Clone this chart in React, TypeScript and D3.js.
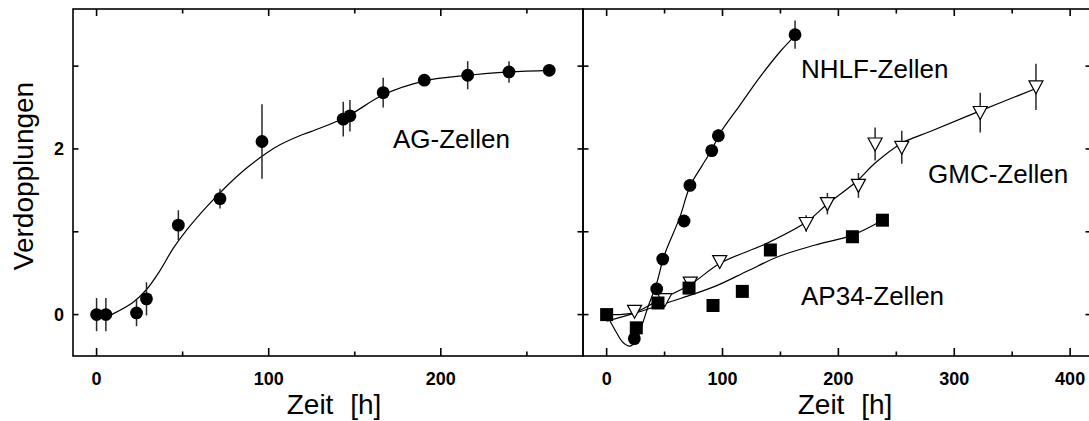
import React from "react";
import * as d3 from "d3";

// ---------- AG-Zellen (left panel) ----------
const AG_TIME = [0, 5.4, 23.2, 29, 47.5, 71.7, 96.1, 143.3, 147.2, 166.5, 190.4, 215.6, 239.6, 263];
const AG_VALUE = [0, 0, 0.02, 0.19, 1.08, 1.4, 2.09, 2.36, 2.4, 2.68, 2.83, 2.89, 2.93, 2.95];
const AG_ERR = [0.2, 0.2, 0.16, 0.2, 0.18, 0.12, 0.45, 0.21, 0.19, 0.18, 0, 0.17, 0.13, 0];
const AG_FIT_TIME = [8.7, 21.3, 28.9, 36.8, 44.5, 52.3, 63.9, 75.5, 87.2, 98.8, 106.5, 118, 125.9, 145.3, 167.1, 190.2, 215.9, 239.4, 263.8];
const AG_FIT_VALUE = [0, 0.15, 0.3, 0.53, 0.8, 1.02, 1.3, 1.55, 1.77, 1.95, 2.05, 2.16, 2.22, 2.39, 2.66, 2.82, 2.89, 2.93, 2.95];

// ---------- NHLF-Zellen ----------
const NHLF_TIME = [23.9, 43.2, 48.4, 66.8, 71.9, 90.7, 96.4, 162.6];
const NHLF_VALUE = [-0.29, 0.31, 0.67, 1.13, 1.56, 1.98, 2.16, 3.38];
const NHLF_ERR = [0, 0, 0, 0, 0, 0.07, 0.08, 0.17];
const NHLF_FIT_TIME = [2.3, 8.6, 14.4, 20.1, 25.3, 30.2, 35.9, 43.2, 48.9, 53.2, 63.3, 71.9, 82, 90.7, 97.9, 115.1, 132.4, 150, 164.1];
const NHLF_FIT_VALUE = [-0.06, -0.22, -0.34, -0.38, -0.32, -0.14, 0.1, 0.38, 0.68, 0.84, 1.18, 1.55, 1.79, 1.99, 2.19, 2.53, 2.87, 3.18, 3.39];

// ---------- GMC-Zellen ----------
const GMC_TIME = [24.1, 50.1, 72.2, 97.6, 172.2, 190.5, 217.3, 231.7, 254.7, 322.4, 370.5];
const GMC_VALUE = [0.04, 0.18, 0.38, 0.64, 1.1, 1.34, 1.56, 2.06, 2.02, 2.44, 2.75];
const GMC_ERR = [0, 0, 0, 0, 0.1, 0.13, 0.15, 0.2, 0.2, 0.24, 0.28];
const GMC_FIT_TIME = [0, 23, 43.2, 71.9, 97.9, 138.2, 172.7, 190, 215.9, 231.7, 254.7, 279.2, 322.4, 370.5];
const GMC_FIT_VALUE = [0, 0.02, 0.16, 0.36, 0.62, 0.86, 1.12, 1.33, 1.61, 1.83, 2.07, 2.21, 2.46, 2.73];

// ---------- AP34-Zellen ----------
const AP_TIME = [0, 25.6, 44.3, 71.1, 91.8, 117.1, 141.3, 212.1, 238];
const AP_VALUE = [0, -0.16, 0.14, 0.32, 0.11, 0.28, 0.78, 0.94, 1.14];
const AP_FIT_TIME = [0, 25, 45, 65, 95, 122, 150, 180, 212, 238];
const AP_FIT_VALUE = [-0.08, 0.02, 0.11, 0.2, 0.35, 0.53, 0.71, 0.84, 0.96, 1.14];

// ---------- axes ----------
const Y_TICKS = [0, 1, 2, 3];
const Y_TICK_LABELS = [0, 2];
const LEFT_X_MAJOR = [0, 100, 200];
const LEFT_X_MINOR = [50, 150, 250];
const RIGHT_X_MAJOR = [0, 100, 200, 300, 400];
const RIGHT_X_MINOR = [50, 150, 250, 350];

const W = 1089;
const H = 421;
const TOP = 9;
const BOTTOM = 356;
const LEFT = 73;
const DIV = 583;
const RIGHT = 1091;
const FONT = "'Liberation Sans', Arial, sans-serif";

const y = d3.scaleLinear().domain([-0.5, 3.69]).range([BOTTOM, TOP]);
const xL = d3.scaleLinear().domain([-13.7, 282.6]).range([LEFT, DIV]);
const xR = d3.scaleLinear().domain([-20.4, 418]).range([DIV, RIGHT]);

const zip = (a: number[], b: number[]) => a.map((v, i) => [v, b[i]] as [number, number]);

function fitPath(x: d3.ScaleLinear<number, number>, t: number[], v: number[]) {
  const line = d3
    .line<[number, number]>()
    .x((d) => x(d[0]))
    .y((d) => y(d[1]))
    .curve(d3.curveCatmullRom.alpha(0.5));
  return line(zip(t, v)) || "";
}

function Frame({ x, x0, x1, major, minor }: { x: d3.ScaleLinear<number, number>; x0: number; x1: number; major: number[]; minor: number[] }) {
  const els: React.ReactNode[] = [];
  major.forEach((t, i) => {
    const px = x(t);
    els.push(<line key={"mb" + i} x1={px} x2={px} y1={BOTTOM} y2={BOTTOM - 8} />);
    els.push(<line key={"mt" + i} x1={px} x2={px} y1={TOP} y2={TOP + 7} />);
  });
  minor.forEach((t, i) => {
    const px = x(t);
    els.push(<line key={"nb" + i} x1={px} x2={px} y1={BOTTOM} y2={BOTTOM - 4.5} />);
    els.push(<line key={"nt" + i} x1={px} x2={px} y1={TOP} y2={TOP + 4.5} />);
  });
  Y_TICKS.forEach((t, i) => {
    const py = y(t);
    els.push(<line key={"yl" + i} x1={x0} x2={x0 + 5.5} y1={py} y2={py} />);
    els.push(<line key={"yr" + i} x1={x1} x2={x1 - 5.5} y1={py} y2={py} />);
  });
  return (
    <g stroke="#000" strokeWidth={1.6} fill="none">
      <rect x={x0} y={TOP} width={x1 - x0} height={BOTTOM - TOP} />
      {els}
    </g>
  );
}

function ErrorBars({ x, t, v, e }: { x: d3.ScaleLinear<number, number>; t: number[]; v: number[]; e: number[] }) {
  return (
    <g stroke="#2a2a2a" strokeWidth={1.5}>
      {t.map((ti, i) =>
        e[i] > 0 ? <line key={i} x1={x(ti)} x2={x(ti)} y1={y(v[i] - e[i])} y2={y(v[i] + e[i])} /> : null
      )}
    </g>
  );
}

function Circles({ x, t, v }: { x: d3.ScaleLinear<number, number>; t: number[]; v: number[] }) {
  return (
    <g fill="#000">
      {t.map((ti, i) => (
        <circle key={i} cx={x(ti)} cy={y(v[i])} r={6.4} />
      ))}
    </g>
  );
}

function Squares({ x, t, v }: { x: d3.ScaleLinear<number, number>; t: number[]; v: number[] }) {
  const s = 13;
  return (
    <g fill="#000">
      {t.map((ti, i) => (
        <rect key={i} x={x(ti) - s / 2} y={y(v[i]) - s / 2} width={s} height={s} />
      ))}
    </g>
  );
}

function Triangles({ x, t, v }: { x: d3.ScaleLinear<number, number>; t: number[]; v: number[] }) {
  return (
    <g fill="#fff" stroke="#000" strokeWidth={1.2}>
      {t.map((ti, i) => {
        const cx = x(ti);
        const cy = y(v[i]);
        return <path key={i} d={`M${cx - 7},${cy - 6}L${cx + 7},${cy - 6}L${cx},${cy + 7}Z`} />;
      })}
    </g>
  );
}

export default function App() {
  const tickFont = { fontFamily: FONT, fontSize: 18, fontWeight: 700 as const };
  const labelFont = { fontFamily: FONT, fontSize: 26 };
  return (
    <svg
      width={W}
      height={H}
      viewBox={`0 0 ${W} ${H}`}
      style={{ position: "absolute", left: 0, top: 0, background: "#fff" }}
    >
      <rect x={0} y={0} width={W} height={H} fill="#fff" />

      {/* left panel: AG */}
      <g fill="none" stroke="#000" strokeWidth={1.2}>
        <path d={fitPath(xL, AG_FIT_TIME, AG_FIT_VALUE)} />
      </g>
      <ErrorBars x={xL} t={AG_TIME} v={AG_VALUE} e={AG_ERR} />
      <Circles x={xL} t={AG_TIME} v={AG_VALUE} />

      {/* right panel: fitted curves */}
      <g fill="none" stroke="#000" strokeWidth={1.2}>
        <path d={fitPath(xR, NHLF_FIT_TIME, NHLF_FIT_VALUE)} />
        <path d={fitPath(xR, GMC_FIT_TIME, GMC_FIT_VALUE)} />
        <path d={fitPath(xR, AP_FIT_TIME, AP_FIT_VALUE)} />
      </g>
      <ErrorBars x={xR} t={GMC_TIME} v={GMC_VALUE} e={GMC_ERR} />
      <Triangles x={xR} t={GMC_TIME} v={GMC_VALUE} />
      <Squares x={xR} t={AP_TIME} v={AP_VALUE} />
      <ErrorBars x={xR} t={NHLF_TIME} v={NHLF_VALUE} e={NHLF_ERR} />
      <Circles x={xR} t={NHLF_TIME} v={NHLF_VALUE} />

      <Frame x={xL} x0={LEFT} x1={DIV} major={LEFT_X_MAJOR} minor={LEFT_X_MINOR} />
      <Frame x={xR} x0={DIV} x1={RIGHT} major={RIGHT_X_MAJOR} minor={RIGHT_X_MINOR} />

      {/* tick labels */}
      <g {...tickFont} textAnchor="middle" fill="#000">
        {LEFT_X_MAJOR.map((t) => (
          <text key={"l" + t} x={xL(t)} y={385}>{t}</text>
        ))}
        {RIGHT_X_MAJOR.map((t) => (
          <text key={"r" + t} x={xR(t)} y={385}>{t}</text>
        ))}
      </g>
      <g {...tickFont} textAnchor="end" fill="#000">
        {Y_TICK_LABELS.map((t) => (
          <text key={t} x={64} y={y(t) + 6.5}>{t}</text>
        ))}
      </g>

      {/* axis titles */}
      <text
        transform={`translate(33,176) rotate(-90)`}
        textAnchor="middle"
        fontFamily={FONT}
        fontSize={28}
        fill="#000"
      >
        Verdopplungen
      </text>
      <g fontFamily={FONT} fontSize={28} textAnchor="middle" fill="#000" style={{ wordSpacing: "9px" }}>
        <text x={334} y={414}>Zeit [h]</text>
        <text x={845} y={414}>Zeit [h]</text>
      </g>

      {/* series labels */}
      <g {...labelFont} fill="#000">
        <text x={393} y={148}>AG-Zellen</text>
        <text x={801} y={78}>NHLF-Zellen</text>
        <text x={928} y={183}>GMC-Zellen</text>
        <text x={801} y={305}>AP34-Zellen</text>
      </g>
    </svg>
  );
}
